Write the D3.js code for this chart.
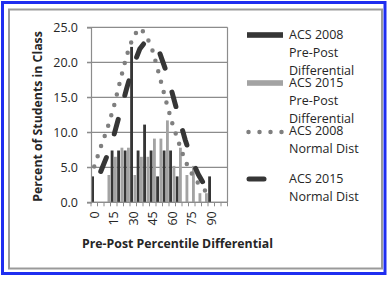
<!DOCTYPE html>
<html>
<head>
<meta charset="utf-8" />
<script src="https://cdnjs.cloudflare.com/ajax/libs/d3/7.8.5/d3.min.js"></script>
<style>
  body { margin: 0; background: #fff; }
  text { font-family: 'Open Sans', sans-serif; fill: #262626; }
</style>
</head>
<body>
<script>
// Percentile differential bins (every 5)
const categories = [0, 5, 10, 15, 20, 25, 30, 35, 40, 45, 50, 55, 60, 65, 70, 75, 80, 85, 90, 95, 100];
// ACS 2008 pre-post differential (% of class)
const acs2008 = [3.7, 0, 0, 7.4, 7.4, 7.4, 22.2, 7.4, 11.1, 7.4, 3.7, 7.4, 7.4, 3.7, 0, 0, 0, 0, 3.7, 0, 0];
// ACS 2015 pre-post differential (% of class)
const acs2015 = [0, 0, 3.9, 6.5, 7.8, 7.8, 3.9, 6.5, 6.5, 9.1, 9.1, 11.7, 5.2, 7.8, 3.9, 5.2, 1.3, 1.3, 0, 0, 0];
// normal distribution curves
const normal2008 = [5.1, 7.9, 10.5, 13.6, 17.4, 21.0, 23.7, 24.9, 23.9, 21.6, 18.2, 14.6, 11.3, 8.5, 5.9, 4.1, 2.7, 1.7, 0.9];
const normal2015 = [null, 4.4, 6.7, 9.5, 12.9, 16.3, 19.5, 21.9, 23.1, 22.9, 21.5, 18.9, 15.6, 12.2, 8.9, 6.1, 4.0, 2.4];
const yTicks = [0, 5, 10, 15, 20, 25];
const xLabels = [0, 15, 30, 45, 60, 75, 90];
const legendLines = [
  ["ACS 2008", "Pre-Post", "Differential"],
  ["ACS 2015", "Pre-Post", "Differential"],
  ["ACS 2008", "Normal Dist"],
  ["ACS 2015", "Normal Dist"]
];

const W = 387, H = 284;
const dark = "#363636", light = "#a3a3a3", dotCol = "#7f7f7f", grid = "#8c8c8c";

const svg = d3.select("body").append("svg")
  .attr("width", W).attr("height", H);

// frames
svg.append("rect").attr("x", 2.5).attr("y", 2.5).attr("width", 382.5).attr("height", 271)
  .attr("fill", "none").attr("stroke", "#1f2ef0").attr("stroke-width", 3);
svg.append("rect").attr("x", 9).attr("y", 9.5).attr("width", 373).attr("height", 259)
  .attr("fill", "none").attr("stroke", "#9a9a9a").attr("stroke-width", 2);

const x = d3.scaleBand().domain(categories).range([91, 227.5]);
const xs = d3.scaleBand().domain(["a", "b"]).range([0, x.bandwidth()])
  .paddingInner(0.15).paddingOuter(0.05);
const y = d3.scaleLinear().domain([0, 25]).range([202.3, 27.3]);

// gridlines
svg.append("g").selectAll("line").data(yTicks).join("line")
  .attr("x1", 87).attr("x2", 227.5)
  .attr("y1", d => y(d)).attr("y2", d => y(d))
  .attr("stroke", grid).attr("stroke-width", 1.2);

// right border of plot
svg.append("line").attr("x1", 227.5).attr("x2", 227.5).attr("y1", y(25)).attr("y2", y(0))
  .attr("stroke", grid).attr("stroke-width", 1.2);

// bars
svg.append("g").selectAll("rect").data(categories).join("rect")
  .attr("x", (d) => x(d) + xs("a"))
  .attr("width", xs.bandwidth())
  .attr("y", (d, i) => y(acs2008[i]))
  .attr("height", (d, i) => y(0) - y(acs2008[i]))
  .attr("fill", dark);
svg.append("g").selectAll("rect").data(categories).join("rect")
  .attr("x", (d) => x(d) + xs("b"))
  .attr("width", xs.bandwidth())
  .attr("y", (d, i) => y(acs2015[i]))
  .attr("height", (d, i) => y(0) - y(acs2015[i]))
  .attr("fill", light);

// axes
const yAxis = svg.append("g").attr("transform", "translate(91,0)")
  .call(d3.axisLeft(y).tickValues(yTicks).tickSize(4).tickPadding(9).tickFormat(d3.format(".1f")));
yAxis.select(".domain").attr("stroke", grid).attr("stroke-width", 1.2);
yAxis.selectAll(".tick line").attr("stroke", grid);
yAxis.selectAll("text").attr("font-size", 12.5).attr("font-family", "'Open Sans', sans-serif").attr("fill", "#262626");

const xAxisG = svg.append("g").attr("transform", "translate(0," + y(0) + ")");
xAxisG.append("line").attr("x1", 91).attr("x2", 227.5).attr("stroke", grid).attr("stroke-width", 1.2);
const bounds = categories.map(d => x(d)).concat([x.range()[1]]);
xAxisG.selectAll(".tk").data(bounds).join("line").attr("class", "tk")
  .attr("x1", d => d).attr("x2", d => d).attr("y1", 0).attr("y2", 4)
  .attr("stroke", grid).attr("stroke-width", 1);
xAxisG.selectAll(".lbl").data(xLabels).join("text").attr("class", "lbl")
  .attr("transform", d => "translate(" + (x(d) + x.bandwidth() / 2 + 4.5) + ",9) rotate(-90)")
  .attr("text-anchor", "end")
  .attr("font-size", 12.5)
  .text(d => d);

// normal distribution lines
const line = d3.line()
  .defined(d => d[1] != null)
  .x(d => x(d[0]) + x.bandwidth() / 2)
  .y(d => y(d[1]));

svg.append("path")
  .datum(normal2008.map((v, i) => [categories[i], v]))
  .attr("d", line).attr("fill", "none")
  .attr("stroke", dotCol).attr("stroke-width", 4.5)
  .attr("stroke-linecap", "round").attr("stroke-dasharray", "0 10.8");

svg.append("path")
  .datum(normal2015.map((v, i) => [categories[i], v]))
  .attr("d", line).attr("fill", "none")
  .attr("stroke", dark).attr("stroke-width", 5)
  .attr("stroke-linecap", "round").attr("stroke-dasharray", "15 25");

// axis titles
svg.append("text")
  .attr("transform", "translate(42,116.5) rotate(-90)")
  .attr("text-anchor", "middle").attr("font-size", 12.3).attr("font-weight", "bold")
  .attr("fill", "#1a1a1a")
  .text("Percent of Students in Class");
svg.append("text")
  .attr("x", 177.5).attr("y", 248)
  .attr("text-anchor", "middle").attr("font-size", 12.3).attr("font-weight", "bold")
  .attr("fill", "#1a1a1a")
  .text("Pre-Post Percentile Differential");

// legend
const lg = svg.append("g");
legendLines.forEach((lines, i) => {
  const base = 39.3 + 48 * i;
  lines.forEach((t, j) => {
    lg.append("text").attr("x", 289).attr("y", base + 18 * j)
      .attr("font-size", 12.5).text(t);
  });
  const cy = base - 4.3;
  if (i < 2) {
    lg.append("rect").attr("x", 247).attr("y", cy - 2.8).attr("width", 36).attr("height", 5.6)
      .attr("fill", i === 0 ? dark : light);
  } else if (i === 2) {
    lg.append("line").attr("x1", 248.5).attr("x2", 283).attr("y1", cy + 1).attr("y2", cy + 1)
      .attr("stroke", dotCol).attr("stroke-width", 4.5)
      .attr("stroke-linecap", "round").attr("stroke-dasharray", "0 11");
  } else {
    lg.append("line").attr("x1", 249).attr("x2", 283).attr("y1", cy).attr("y2", cy)
      .attr("stroke", dark).attr("stroke-width", 5)
      .attr("stroke-linecap", "round").attr("stroke-dasharray", "15 25");
  }
});
</script>
</body>
</html>
